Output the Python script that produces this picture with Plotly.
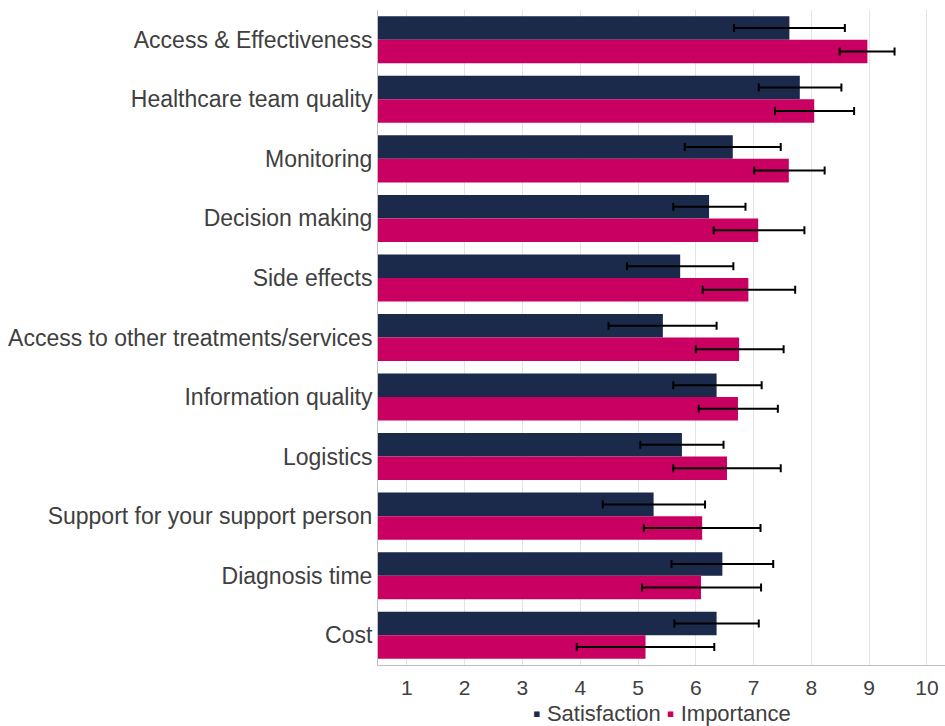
import plotly.graph_objects as go

categories = [
    "Access & Effectiveness", "Healthcare team quality", "Monitoring",
    "Decision making", "Side effects", "Access to other treatments/services",
    "Information quality", "Logistics", "Support for your support person",
    "Diagnosis time", "Cost",
]
satisfaction = [7.62, 7.80, 6.64, 6.23, 5.73, 5.43, 6.36, 5.76, 5.27, 6.46, 6.36]
sat_low = [6.66, 7.09, 5.81, 5.61, 4.81, 4.49, 5.61, 5.04, 4.39, 5.58, 5.63]
sat_high = [8.58, 8.52, 7.47, 6.86, 6.65, 6.36, 7.14, 6.48, 6.16, 7.34, 7.09]
importance = [8.97, 8.05, 7.61, 7.08, 6.91, 6.75, 6.73, 6.54, 6.11, 6.09, 5.13]
imp_low = [8.49, 7.37, 7.01, 6.31, 6.12, 6.00, 6.05, 5.61, 5.10, 5.07, 3.94]
imp_high = [9.44, 8.74, 8.23, 7.88, 7.72, 7.52, 7.42, 7.47, 7.12, 7.13, 6.32]
x_ticks = [1, 2, 3, 4, 5, 6, 7, 8, 9, 10]
series_names = ["Satisfaction", "Importance"]

NAVY = "#1B2A4A"
PINK = "#C90062"
FONT = "Liberation Sans, Arial, sans-serif"
TXT = "#404040"

fig = go.Figure()

def add_series(name, vals, lo, hi, color):
    fig.add_trace(go.Bar(
        name=name, y=categories, x=vals, orientation="h",
        marker=dict(color=color, line=dict(width=0)),
        error_x=dict(type="data", symmetric=False,
                     array=[h - v for h, v in zip(hi, vals)],
                     arrayminus=[v - l for v, l in zip(vals, lo)],
                     color="#000000", thickness=2, width=4),
        showlegend=False,
    ))

add_series(series_names[0], satisfaction, sat_low, sat_high, NAVY)
add_series(series_names[1], importance, imp_low, imp_high, PINK)

legend_text = (
    f"<span style='color:{NAVY}'>▪</span> {series_names[0]} "
    f"<span style='color:{PINK}'>▪</span> {series_names[1]}"
)

fig.update_layout(
    width=945, height=726,
    margin=dict(l=378, r=0, t=10, b=61, autoexpand=False),
    barmode="group", bargap=0.21, bargroupgap=0,
    plot_bgcolor="white", paper_bgcolor="white",
    font=dict(family=FONT, color=TXT, size=22),
    showlegend=False,
    annotations=[dict(
        text=legend_text, xref="paper", yref="paper", x=0.5, y=-0.0735,
        xanchor="center", yanchor="middle", showarrow=False,
        font=dict(size=22, color=TXT, family=FONT),
    )],
    xaxis=dict(range=[0.5, 10.313], tickvals=x_ticks, ticktext=[str(t) for t in x_ticks],
               showgrid=True, gridcolor="#E4E4E4", gridwidth=1,
               showline=True, linecolor="#BFBFBF", linewidth=1,
               zeroline=False, ticks="", tickfont=dict(size=21, color=TXT),
               ticklabelstandoff=4, fixedrange=True),
    yaxis=dict(autorange="reversed", showline=True, linecolor="#BFBFBF", linewidth=1,
               showgrid=False, ticks="", tickfont=dict(size=23, color=TXT),
               ticklabelstandoff=0),
)

fig.write_html("out.html")
